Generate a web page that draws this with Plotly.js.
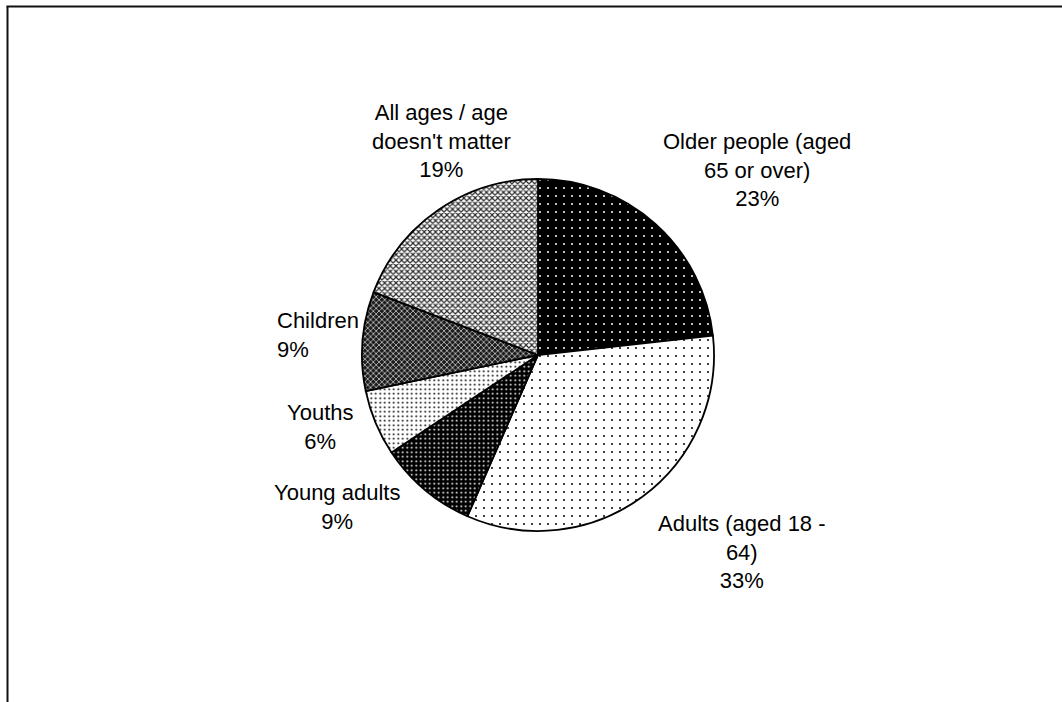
<!DOCTYPE html>
<html>
<head>
<meta charset="utf-8">
<script src="https://cdn.plot.ly/plotly-3.0.1.min.js"></script>
<style>
  html, body { margin: 0; padding: 0; background: #ffffff; }
  #chart { width: 1062px; height: 702px; }
</style>
</head>
<body>
<div id="chart"></div>
<script>
// Age groups and their share of responses (percent)
const categories = [
  "Older people (aged<br>65 or over)",
  "Adults (aged 18 -<br>64)",
  "Young adults",
  "Youths",
  "Children",
  "All ages / age<br>doesn't matter"
];
const shares = [23, 33, 9, 6, 9, 19];

// Fill patterns for each slice (monochrome print style)
const patternShapes   = [".", ".", ".", ".", "x", "x"];
const patternFg       = ["#ffffff", "#000000", "#ffffff", "#000000", "#d0d0d0", "#2a2a2a"];
const patternBg       = ["#000000", "#ffffff", "#000000", "#ffffff", "#1c1c1c", "#ffffff"];
const patternSizes    = [8, 8, 4.5, 4.5, 4, 4];
const patternSolidity = [0.05, 0.05, 0.15, 0.15, 0.35, 0.5];

// Label placement (pixels from top-left of the page) and text alignment
const labelPos   = [[757, 170], [742, 552], [337, 507], [320, 427], [275, 335], [441, 141]];
const labelAlign = ["center", "center", "center", "center", "left", "center"];

const W = 1062, H = 702;
const cx = 538, cy = 355, r = 176;

const trace = {
  type: "pie",
  labels: categories,
  values: shares,
  sort: false,
  direction: "clockwise",
  rotation: 0,
  textinfo: "none",
  hoverinfo: "skip",
  showlegend: false,
  domain: {
    x: [(cx - r) / W, (cx + r) / W],
    y: [(H - cy - r) / H, (H - cy + r) / H]
  },
  marker: {
    colors: patternBg,
    line: { color: "#000000", width: 1.8 },
    pattern: {
      shape: patternShapes,
      fgcolor: patternFg,
      bgcolor: patternBg,
      size: patternSizes,
      solidity: patternSolidity,
      fillmode: "replace"
    }
  }
};

const annotations = categories.map((name, i) => ({
  xref: "paper", yref: "paper",
  x: labelPos[i][0] / W,
  y: 1 - labelPos[i][1] / H,
  xanchor: labelAlign[i] === "left" ? "left" : "center",
  yanchor: "middle",
  align: labelAlign[i],
  showarrow: false,
  text: name + "<br>" + shares[i] + "%",
  font: { family: "Liberation Sans, Arial, sans-serif", size: 22, color: "#000000" }
}));

const layout = {
  width: W, height: H,
  margin: { l: 0, r: 0, t: 0, b: 0 },
  paper_bgcolor: "#ffffff",
  plot_bgcolor: "#ffffff",
  font: { family: "Liberation Sans, Arial, sans-serif", size: 22, color: "#000000" },
  annotations: annotations,
  shapes: [
    // chart frame: top and left edges (the rest lies beyond the page)
    { type: "line", xref: "paper", yref: "paper",
      x0: 6.5 / W, x1: 1, y0: 1 - 6.5 / H, y1: 1 - 6.5 / H,
      line: { color: "#111111", width: 2 } },
    { type: "line", xref: "paper", yref: "paper",
      x0: 7.5 / W, x1: 7.5 / W, y0: 0, y1: 1 - 6.5 / H,
      line: { color: "#111111", width: 2 } }
  ]
};

Plotly.newPlot("chart", [trace], layout, { displayModeBar: false, staticPlot: true });
</script>
</body>
</html>
